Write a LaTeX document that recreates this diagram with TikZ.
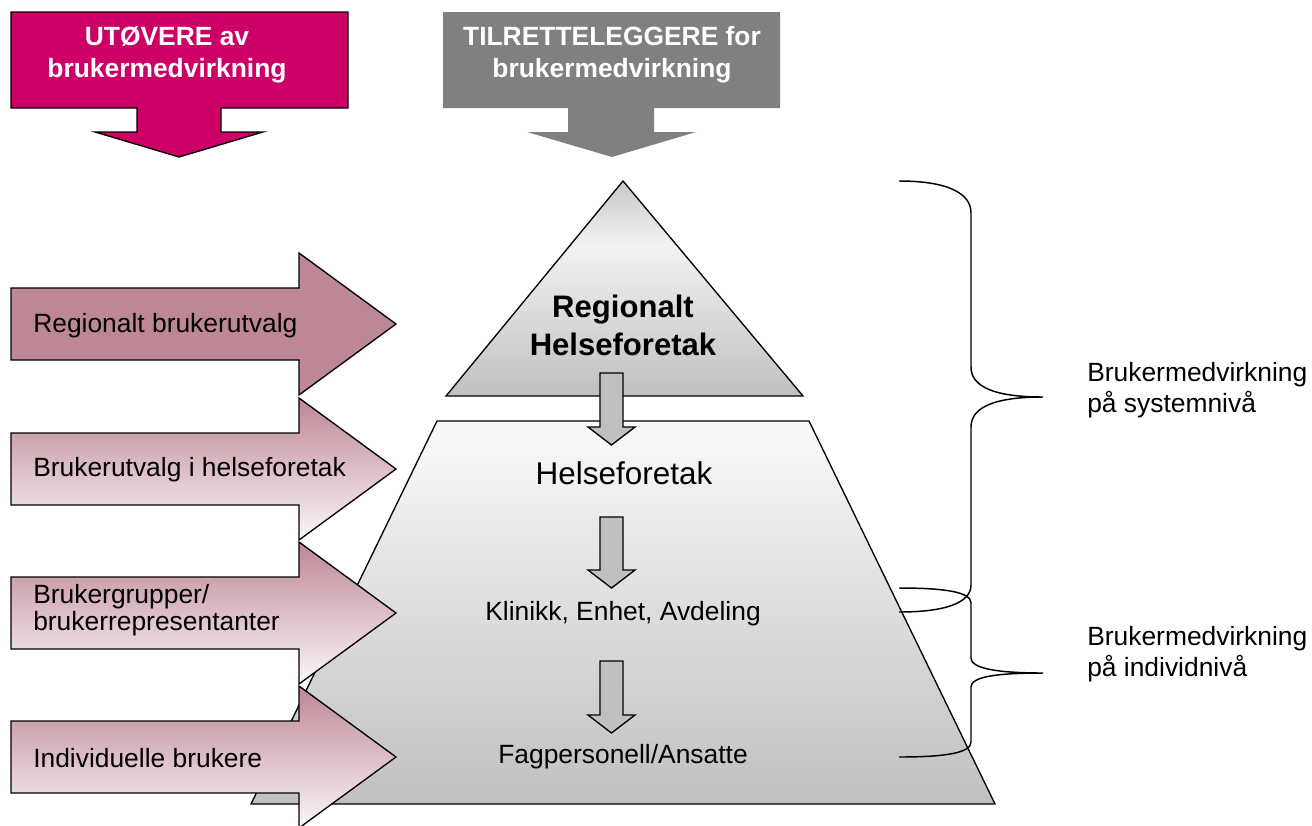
\documentclass[tikz,border=0pt]{standalone}
\usepackage{fontspec}
\setmainfont{Liberation Sans}
\definecolor{magentaC}{HTML}{CC0066}
\definecolor{grayC}{HTML}{808080}
\definecolor{mauve}{HTML}{BE8795}
\definecolor{pale}{HTML}{FBF6F8}
\definecolor{arrowgray}{HTML}{C0C0C0}
\definecolor{trilight}{HTML}{F2F2F2}
\definecolor{tritop}{HTML}{C8C8C8}
\pgfdeclareverticalshading{trishade}{100bp}{color(0bp)=(arrowgray); color(25bp)=(arrowgray); color(60bp)=(trilight); color(75bp)=(tritop); color(100bp)=(tritop)}
\newcommand\blockR[1]{(11,#1-36) -- (299,#1-36) -- (299,#1-71) -- (396,#1) -- (299,#1+71) -- (299,#1+36) -- (11,#1+36) -- cycle}
\newcommand\blockD[2]{(600,#1) -- (623,#1) -- (623,#2-18) -- (635,#2-18) -- (611.5,#2) -- (588,#2-18) -- (600,#2-18) -- cycle}
\begin{document}
\begin{tikzpicture}[x=0.75pt,y=-0.75pt,
  outline/.style={draw=black,line width=1pt,line join=miter},
  lbl/.style={font=\fontsize{19.8pt}{20.25pt}\selectfont,inner sep=0pt,align=left,anchor=west},
  mid/.style={font=\fontsize{19.8pt}{23.6pt}\selectfont,inner sep=0pt,align=center},
  rlbl/.style={font=\fontsize{19.8pt}{23.6pt}\selectfont,inner sep=0pt,align=left,anchor=west},
  ttl/.style={font=\bfseries\fontsize{19.8pt}{24pt}\selectfont,text=white,inner sep=0pt,align=center},
  brace/.style={draw=black,line width=1.1pt}]
\useasboundingbox (0,0) rectangle (1312,825);
\clip (0,0) rectangle (1312,825);
% pyramid
\shade[outline,top color=white!98!black,bottom color=arrowgray] (437,421) -- (809,421) -- (995,804) -- (251,804) -- cycle;
\shade[outline,shading=trishade] (623,181) -- (803,396) -- (446,396) -- cycle;
\draw[outline,fill=arrowgray] \blockD{373}{445};
\draw[outline,fill=arrowgray] \blockD{517}{588};
\draw[outline,fill=arrowgray] \blockD{661}{733};
\node[font=\bfseries\fontsize{23.3pt}{28.5pt}\selectfont,inner sep=0pt,align=center] (rhf) at (623,325) {Regionalt\\Helseforetak};
\node[font=\fontsize{23.6pt}{28pt}\selectfont,inner sep=0pt] (hf) at (624,473) {Helseforetak};
\node[mid] (kea) at (623,614) {Klinikk, Enhet, Avdeling};
\node[mid] (fag) at (623,757) {Fagpersonell/Ansatte};
% left arrows
\draw[outline,fill=mauve] \blockR{324};
\shade[outline,top color=mauve,bottom color=pale] \blockR{469};
\shade[outline,top color=mauve,bottom color=pale] \blockR{613};
\shade[outline,top color=mauve,bottom color=pale] \blockR{757};
\node[lbl] (rb) at (33,326) {Regionalt brukerutvalg};
\node[lbl] (bh) at (33,470) {Brukerutvalg i helseforetak};
\node[lbl] (bg) at (33,610) {Brukergrupper/\\brukerrepresentanter};
\node[lbl] (ib) at (33,758) {Individuelle brukere};
% braces
\draw[brace] (899,181) .. controls (945,181) and (971,192) .. (971,213) -- (971,367)
  .. controls (971,387) and (995,397) .. (1043,397)
  .. controls (995,397) and (971,407) .. (971,427) -- (971,585)
  .. controls (971,603) and (945,612) .. (899,612);
\draw[brace] (899,588) .. controls (945,588) and (971,592) .. (971,603) -- (971,658)
  .. controls (971,668) and (995,673) .. (1043,673)
  .. controls (995,673) and (971,677) .. (971,687) -- (971,742)
  .. controls (971,753) and (945,757) .. (899,757);
\node[rlbl] (sys) at (1087,390) {Brukermedvirkning\\på systemnivå};
\node[rlbl] (ind) at (1087,654) {Brukermedvirkning\\på individnivå};
% top arrows
\draw[draw=black,line width=1pt,fill=magentaC] (11,12) -- (348,12) -- (348,108) -- (221,108) -- (221,132) -- (263,132) -- (179,157) -- (95,132) -- (137,132) -- (137,108) -- (11,108) -- cycle;
\fill[grayC] (443,12) -- (780,12) -- (780,108) -- (654,108) -- (654,132) -- (696,132) -- (612,157) -- (527,132) -- (568,132) -- (568,108) -- (443,108) -- cycle;
\node[ttl] (ut) at (167,55) {UTØVERE av\\brukermedvirkning};
\node[ttl] (ti) at (612,55) {TILRETTELEGGERE for\\brukermedvirkning};
\end{tikzpicture}
\end{document}
